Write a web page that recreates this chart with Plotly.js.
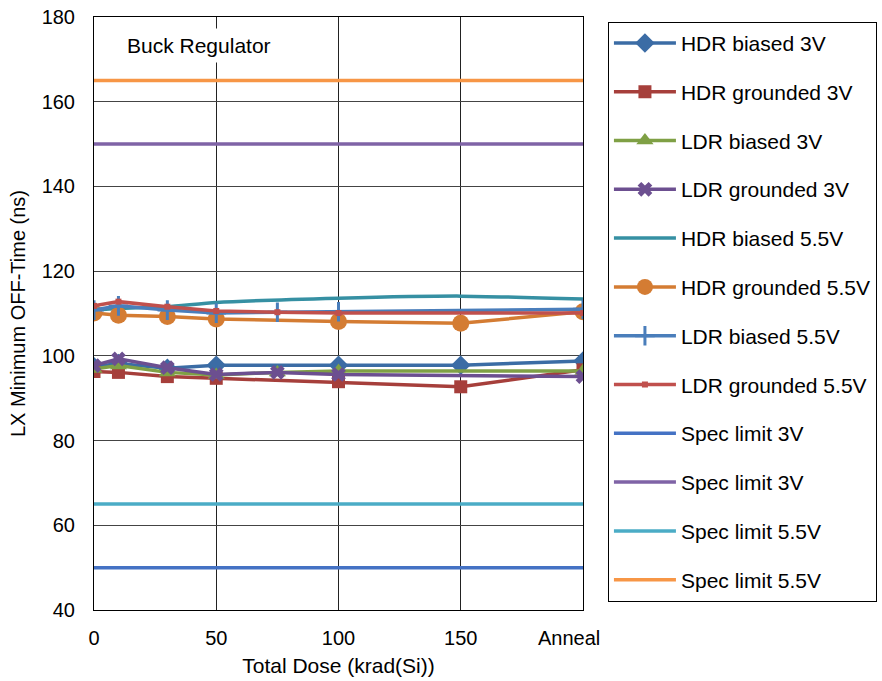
<!DOCTYPE html>
<html>
<head>
<meta charset="utf-8">
<script src="https://cdn.plot.ly/plotly-3.0.1.min.js"></script>
<style>html,body{margin:0;padding:0;background:#fff;}#chart{width:882px;height:681px;}</style>
</head>
<body>
<div id="chart"></div>
<script>
// Dose points (200 = Anneal position)
const hdrDose = [0, 10, 30, 50, 100, 150, 200];
const ldrDose = [0, 10, 30, 50, 75, 100, 200];
const specDose = [0, 200];
const tickVals = [0, 50, 100, 150, 200];
const tickText = ['0', '50', '100', '150', 'Anneal&nbsp;&nbsp;&nbsp;&nbsp;&nbsp;'];

const hdrBiased3V = [97.4, 98.2, 97.1, 97.8, 97.8, 97.8, 98.8];
const hdrGrounded3V = [96.3, 96.1, 95.1, 94.7, 93.9, 92.7, 96.7];
const ldrBiased3V = [96.9, 97.7, 96.1, 95.5, 96.1, 96.4, 96.4];
const ldrGrounded3V = [97.7, 99.3, 97.2, 95.6, 96.1, 95.6, 95.1];
const hdrBiased55V = [110.8, 111.2, 111.6, 112.6, 113.6, 114.1, 113.4];
const hdrGrounded55V = [110.1, 109.6, 109.3, 108.7, 108.1, 107.7, 110.4];
const ldrBiased55V = [110.8, 111.8, 110.8, 110.1, 110.3, 110.4, 111.0];
const ldrGrounded55V = [111.8, 112.8, 111.6, 110.6, 110.3, 110.1, 110.1];
const specLimit3VLow = [50, 50];
const specLimit3VHigh = [150, 150];
const specLimit55VLow = [65, 65];
const specLimit55VHigh = [165, 165];

const LW = 3.5;
function tr(name, x, y, color, marker, extra) {
  const t = {
    type: 'scatter', name: name, x: x, y: y,
    mode: marker ? 'lines+markers' : 'lines',
    line: {color: color, width: LW},
    legendgroup: name
  };
  if (marker) t.marker = marker;
  return Object.assign(t, extra || {});
}

const traces = [
  tr('HDR biased 3V', hdrDose, hdrBiased3V, '#3B6CA5', {symbol: 'diamond', size: 15, color: '#3B6CA5'}),
  tr('HDR grounded 3V', hdrDose, hdrGrounded3V, '#A63F3B', {symbol: 'square', size: 13, color: '#A63F3B'}),
  tr('LDR biased 3V', ldrDose, ldrBiased3V, '#7FA045', {symbol: 'triangle-up', size: 15, color: '#7FA045'}),
  tr('LDR grounded 3V', ldrDose, ldrGrounded3V, '#6C4F90', {symbol: 'x', size: 13, color: '#6C4F90'}),
  tr('HDR biased 5.5V', hdrDose, hdrBiased55V, '#3690A3', null, {line: {color: '#3690A3', width: LW, shape: 'spline', smoothing: 0.6}}),
  tr('HDR grounded 5.5V', hdrDose, hdrGrounded55V, '#D47C33', {symbol: 'circle', size: 17, color: '#D47C33'}),
  tr('LDR biased 5.5V', ldrDose, ldrBiased55V, '#4A7EBB', {symbol: 'cross-thin', size: 14, color: '#4A7EBB', line: {color: '#4A7EBB', width: 3}}),
  tr('LDR grounded 5.5V', ldrDose, ldrGrounded55V, '#C0504D', {symbol: 'square', size: 6, color: '#C0504D'}),
  tr('Spec limit 3V', specDose, specLimit3VLow, '#4472C4', null),
  tr('Spec limit 3V ', specDose, specLimit3VHigh, '#7F63A6', null),
  tr('Spec limit 5.5V', specDose, specLimit55VLow, '#4BACC6', null),
  tr('Spec limit 5.5V ', specDose, specLimit55VHigh, '#F79646', null)
];

const FF = 'Liberation Sans, Arial, sans-serif';
const font = {family: FF, size: 21, color: '#000'};

const layout = {
  width: 882, height: 681,
  margin: {l: 94, r: 299, t: 17, b: 71, autoexpand: false},
  paper_bgcolor: '#fff', plot_bgcolor: '#fff',
  font: font,
  showlegend: true,
  legend: {
    x: 1.051, xanchor: 'left', y: 0.992, yanchor: 'top',
    bordercolor: '#000', borderwidth: 1,
    font: {family: FF, size: 21, color: '#000'},
    tracegroupgap: 18.5, itemwidth: 62,
    traceorder: 'grouped', maxheight: 2000
  },
  xaxis: {
    range: [0, 200], tickvals: tickVals, ticktext: tickText,
    showgrid: true, gridcolor: '#222', gridwidth: 1,
    zeroline: false, showline: true, linecolor: '#000', linewidth: 1, mirror: true,
    ticks: '', ticklabelstandoff: 10, tickfont: {family: FF, size: 20, color: '#000'},
    title: {text: 'Total Dose (krad(Si))', font: font, standoff: 10}
  },
  yaxis: {
    range: [40, 180], dtick: 20,
    showgrid: true, gridcolor: '#444', gridwidth: 1,
    zeroline: false, showline: true, linecolor: '#000', linewidth: 1, mirror: true,
    ticks: '', ticklabelstandoff: 14, tickfont: {family: FF, size: 20, color: '#000'},
    title: {text: 'LX Minimum OFF-Time (ns)', font: {family: FF, size: 20, color: '#000'}, standoff: 10}
  },
  annotations: [{
    xref: 'x', yref: 'y', x: 43, y: 173.2, text: 'Buck Regulator',
    showarrow: false, bgcolor: '#fff', font: {family: FF, size: 21, color: '#000'},
    borderpad: 5
  }]
};

Plotly.newPlot('chart', traces, layout, {displayModeBar: false, staticPlot: true});
</script>
</body>
</html>
